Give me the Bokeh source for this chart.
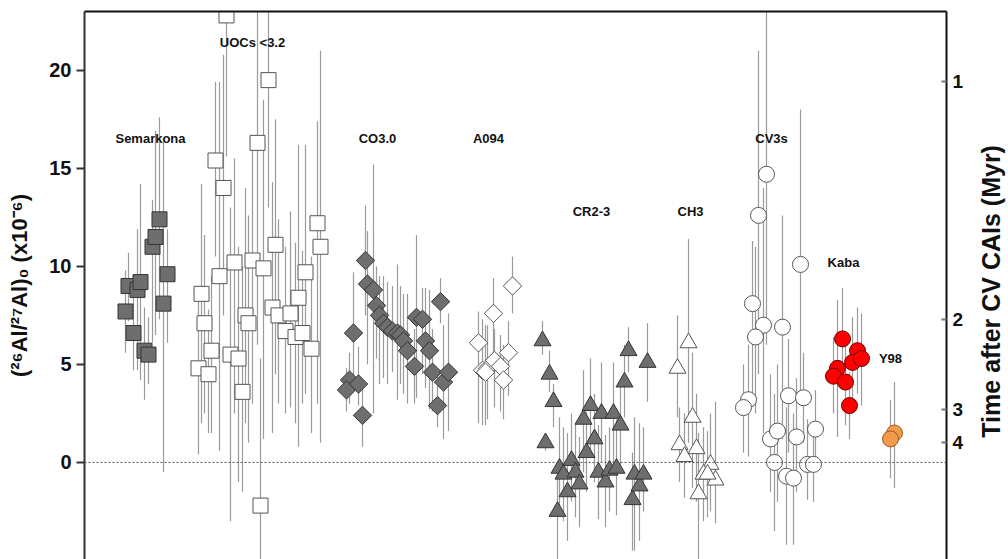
import math
from bokeh.plotting import figure
from bokeh.layouts import row
from bokeh.models import Range1d, LinearAxis, FixedTicker, Span
from bokeh.core.properties import value
from bokeh.embed import file_html
from bokeh.resources import INLINE

# ---------------- data (position along x, (26Al/27Al)0 x1e-6, lower, upper) ----------------
semarkona_pos = [125, 128, 133, 137, 140, 144, 148, 152, 155, 159, 163, 167]
semarkona_val = [7.7, 9.0, 6.6, 8.8, 9.2, 5.7, 5.5, 11.0, 11.5, 12.4, 8.1, 9.6]
semarkona_lo = [5.6, 7.2, 4.7, 4.7, 4.2, 3.2, 4.0, 6.1, 6.5, 7.3, -0.5, 6.1]
semarkona_hi = [9.8, 10.7, 8.6, 11.9, 14.2, 7.9, 7.4, 13.4, 16.9, 17.6, 16.4, 11.9]

uoc_pos = [226, 268, 257, 215, 223, 317, 320, 275, 234, 252, 263, 219, 305, 201, 298, 272,
           245, 248, 278, 290, 285, 295, 302, 204, 211, 230, 238, 311, 198, 208, 242, 260]
uoc_val = [22.8, 19.5, 16.3, 15.4, 14.0, 12.2, 11.0, 11.1, 10.2, 10.3, 9.9, 9.5, 9.7, 8.6, 8.4, 7.9,
           7.5, 7.1, 7.5, 7.6, 6.7, 6.4, 6.6, 7.1, 5.7, 5.5, 5.3, 5.8, 4.8, 4.5, 3.6, -2.2]
uoc_lo = [15.6, 13.0, 6.0, 10.5, 7.5, 3.0, 1.0, 4.5, 2.5, 3.0, 1.2, 0.6, 3.5, 2.0, 0.8, 1.5,
          2.0, 1.0, 3.0, 2.8, 2.5, 2.0, 3.0, 2.5, 1.5, -3.0, -1.0, 1.5, 0.4, 1.5, -1.5, -6.0]
uoc_hi = [26.0, 26.0, 26.0, 19.4, 20.8, 17.4, 21.0, 17.5, 15.5, 16.2, 18.5, 19.4, 16.2, 14.2, 16.2, 14.3,
          14.0, 12.6, 12.4, 12.8, 11.0, 11.2, 10.8, 11.6, 9.5, 13.0, 11.0, 10.5, 9.0, 7.8, 10.0, 5.3]

co_pos = [365, 367, 373, 376, 379, 383, 387, 392, 397, 400, 403, 407, 414, 416, 422, 425,
          429, 432, 440, 443, 448, 437, 353, 349, 346, 358, 362]
co_val = [10.3, 9.1, 8.8, 8.0, 7.5, 7.1, 6.9, 6.7, 6.6, 6.5, 6.2, 5.7, 4.9, 7.4, 7.3, 6.2,
          5.7, 4.6, 8.2, 4.1, 4.6, 2.9, 6.6, 4.2, 3.7, 4.0, 2.4]
co_lo = [7.5, 5.0, 2.5, 5.3, 4.0, 4.3, 4.0, 4.6, 3.2, 4.0, 3.5, 3.0, 3.0, 3.3, 4.5, 3.8,
         2.7, 2.6, 7.1, 1.2, 1.6, 1.8, 3.7, 3.0, 2.6, 2.9, 0.8]
co_hi = [13.1, 11.8, 15.2, 10.0, 9.5, 9.5, 9.2, 9.0, 10.1, 9.0, 8.6, 8.6, 6.8, 11.6, 8.9, 8.9,
         8.8, 6.8, 9.4, 7.0, 7.6, 4.4, 9.7, 5.6, 4.8, 5.9, 4.0]

a094_pos = [512, 493, 478, 508, 482, 487, 494, 500, 503, 485]
a094_val = [9.0, 7.6, 6.1, 5.6, 4.7, 4.8, 5.2, 4.9, 4.2, 4.6]
a094_lo = [7.6, 5.0, 2.0, 3.4, 1.9, 2.2, 2.8, 2.6, 2.2, 1.9]
a094_hi = [10.5, 9.4, 7.7, 7.2, 7.3, 7.0, 6.8, 6.5, 6.0, 7.0]

cr_pos = [542, 549, 553, 545, 557, 559, 563, 567, 571, 575, 579, 583, 586, 590, 594, 598,
          601, 605, 609, 613, 616, 620, 624, 628, 632, 634, 639, 643, 647]
cr_val = [6.2, 4.5, 3.1, 1.0, -2.5, -0.3, -0.6, -1.5, 0.1, -0.5, -1.1, 2.2, 0.5, 2.9, 1.2, -0.5,
          2.5, -1.0, -0.4, 2.5, -0.3, 1.9, 4.1, 5.7, -1.9, -0.6, -1.2, -0.6, 5.1]
cr_lo = [5.5, 3.6, 1.8, 0.6, -5.0, -2.5, -3.0, -4.0, -2.0, -2.8, -3.3, -0.5, -1.5, 0.5, -1.0, -2.9,
         0.0, -3.3, -2.5, 0.0, -2.7, -0.5, 2.3, 4.6, -4.5, -4.5, -4.0, -2.5, 3.1]
cr_hi = [7.2, 5.7, 4.0, 1.4, -0.6, 2.3, 1.8, 1.5, 2.5, 2.0, 1.3, 4.7, 2.6, 5.3, 3.5, 1.9,
         5.1, 1.4, 1.8, 5.1, 2.2, 4.0, 6.0, 6.9, 0.5, 2.3, 2.0, 1.8, 7.1]

ch_pos = [688, 677, 692, 679, 684, 696, 710, 703, 715, 698, 707]
ch_val = [6.1, 4.8, 2.3, 0.9, 0.3, 0.7, -0.1, -0.6, -0.9, -1.6, -0.6]
ch_lo = [1.0, 2.3, -1.3, -1.0, -1.8, -2.0, -2.5, -3.0, -3.1, -5.0, -2.8]
ch_hi = [11.4, 7.5, 5.6, 2.8, 2.5, 3.5, 2.5, 1.8, 3.1, 1.5, 1.6]

cv_pos = [766, 758, 752, 763, 755, 782, 800, 748, 743, 788, 803, 770, 777, 796, 815, 774,
          786, 793, 807, 813]
cv_val = [14.7, 12.6, 8.1, 7.0, 6.4, 6.9, 10.1, 3.2, 2.8, 3.4, 3.3, 1.2, 1.6, 1.3, 1.7, 0.0,
          -0.7, -0.8, -0.1, -0.1]
cv_lo = [6.0, 4.5, 3.5, 1.5, 2.5, 1.2, 3.4, 0.3, 0.5, 0.5, 1.0, -1.5, -2.0, -1.5, -0.3, -3.5,
         -4.2, -4.2, -1.9, -2.0]
cv_hi = [26.0, 21.0, 11.3, 14.0, 11.0, 12.6, 18.0, 6.0, 5.0, 6.3, 5.6, 4.5, 5.0, 4.3, 3.7, 3.5,
         2.8, 2.5, 2.2, 1.5]

kaba_pos = [842, 857, 852, 861, 837, 833, 845, 849]
kaba_val = [6.3, 5.7, 5.1, 5.3, 4.8, 4.4, 4.1, 2.9]
kaba_lo = [3.8, 3.5, 2.8, 2.9, 1.3, 2.5, 1.9, 1.2]
kaba_hi = [8.9, 7.9, 7.4, 7.6, 8.3, 6.4, 6.2, 4.6]

y98_pos = [894, 890]
y98_val = [1.5, 1.2]
y98_lo = [-1.3, -0.8]
y98_hi = [4.1, 3.2]

group_names = ["Semarkona", "UOCs <3.2", "CO3.0", "A094", "CR2-3", "CH3", "CV3s", "Kaba", "Y98"]
group_label_pos = [150, 252, 377, 488, 591, 690, 771, 843, 890]
group_label_val = [16.5, 21.4, 16.5, 16.5, 12.8, 12.8, 16.5, 10.2, 5.3]

left_ticks = [0, 5, 10, 15, 20]
time_ticks = [1, 2, 3, 4]          # Myr after CV CAIs
cai_ratio = 52.0                    # (26Al/27Al)0 of CV CAIs, x1e-6
al26_half_life = 0.705              # Myr
right_title = "Time after CV CAIs (Myr)"

# ---------------- figure ----------------
FONT = "Liberation Sans"
Y_LO, Y_HI = -4.95, 23.0
MAIN_W, SIDE_W, H = 974, 34, 559
p = figure(width=MAIN_W, height=H, x_range=Range1d(84, 946), y_range=Range1d(Y_LO, Y_HI),
           output_backend="svg", toolbar_location=None, x_axis_location=None,
           min_border_left=84, min_border_right=MAIN_W - 946, min_border_top=11, min_border_bottom=0)
p.grid.visible = False
p.outline_line_color = None
p.background_fill_color = "white"
p.border_fill_color = "white"

# left axis
ya = p.yaxis[0]
ya.ticker = FixedTicker(ticks=left_ticks)
ya.axis_label = "(²⁶Al/²⁷Al)₀ (x10⁻⁶)"
ya.axis_label_text_font = FONT
ya.axis_label_text_font_style = "bold"
ya.axis_label_text_font_size = "22px"
ya.axis_label_text_color = "#111111"
ya.axis_label_standoff = 14
ya.major_label_text_font = FONT
ya.major_label_text_font_style = "bold"
ya.major_label_text_font_size = "20px"
ya.major_label_text_color = "#111111"
ya.major_label_standoff = 5
ya.major_tick_out = 8
ya.major_tick_in = 0
ya.minor_tick_out = 0
ya.minor_tick_in = 0
ya.axis_line_width = 2
ya.axis_line_color = "#333333"
ya.major_tick_line_color = "#333333"
ya.major_tick_line_width = 2

# right axis (time after CV CAIs)
decay = math.log(2) / al26_half_life
time_pos = [round(cai_ratio * math.exp(-decay * t), 4) for t in time_ticks]
ra = LinearAxis(ticker=FixedTicker(ticks=time_pos),
                major_label_overrides={tp: str(t) for tp, t in zip(time_pos, time_ticks)})
ra.major_label_text_font = FONT
ra.major_label_text_font_style = "bold"
ra.major_label_text_font_size = "19px"
ra.major_label_text_color = "#111111"
ra.major_label_standoff = 6
ra.major_tick_in = 5
ra.major_tick_out = 0
ra.major_tick_line_color = "#777777"
ra.major_tick_line_width = 2
ra.minor_tick_in = 0
ra.minor_tick_out = 0
ra.axis_line_width = 2
ra.axis_line_color = "#111111"
p.add_layout(ra, "right")

# top border line
ta = LinearAxis(ticker=FixedTicker(ticks=[]), major_tick_in=0, major_tick_out=0,
                minor_tick_in=0, minor_tick_out=0, major_label_text_font_size="0px",
                axis_line_width=2, axis_line_color="#111111")
p.add_layout(ta, "above")

# zero line
p.add_layout(Span(location=0, dimension="width", line_color="#555555",
                  line_dash="2 2", line_width=1))

groups = [
    (semarkona_pos, semarkona_val, semarkona_lo, semarkona_hi, "square", 15, 0, "#6e6e6e", "#333333"),
    (uoc_pos, uoc_val, uoc_lo, uoc_hi, "square", 15, 0, "white", "#555555"),
    (co_pos, co_val, co_lo, co_hi, "square", 13, math.pi / 4, "#6e6e6e", "#333333"),
    (a094_pos, a094_val, a094_lo, a094_hi, "square", 13, math.pi / 4, "white", "#555555"),
    (cr_pos, cr_val, cr_lo, cr_hi, "triangle", 17, 0, "#6e6e6e", "#333333"),
    (ch_pos, ch_val, ch_lo, ch_hi, "triangle", 17, 0, "white", "#555555"),
    (cv_pos, cv_val, cv_lo, cv_hi, "circle", 16, 0, "white", "#555555"),
    (kaba_pos, kaba_val, kaba_lo, kaba_hi, "circle", 16, 0, "#ff0000", "#6a0000"),
    (y98_pos, y98_val, y98_lo, y98_hi, "circle", 16, 0, "#f39a4c", "#9a5a22"),
]

# error bars first
for pos, val, lo, hi, *_ in groups:
    p.segment(x0=pos, y0=lo, x1=pos, y1=hi, line_color="#9b9b9b", line_width=1.2)

# markers
for pos, val, lo, hi, marker, size, ang, fill, line in groups:
    p.scatter(x=pos, y=val, marker=marker, size=size, angle=ang,
              fill_color=fill, line_color=line, line_width=1)

# group labels
p.text(x=group_label_pos, y=group_label_val, text=group_names,
       text_font=value(FONT), text_font_style="bold", text_font_size="13px",
       text_align="center", text_baseline="middle", text_color="#111111")

# narrow side panel carrying the right-hand axis title (reads bottom to top)
side = figure(width=SIDE_W, height=H, x_range=Range1d(0, SIDE_W), y_range=Range1d(0, H),
              output_backend="svg", toolbar_location=None,
              x_axis_location=None, y_axis_location=None,
              min_border_left=0, min_border_right=0, min_border_top=0, min_border_bottom=0)
side.grid.visible = False
side.outline_line_color = None
side.background_fill_color = "white"
side.border_fill_color = "white"
side.text(x=[SIDE_W / 2 - 1], y=[H / 2 - 6], text=[right_title], angle=math.pi / 2,
          text_font=value(FONT), text_font_style="bold", text_font_size="25px",
          text_align="center", text_baseline="middle", text_color="#111111")

layout = row(p, side, spacing=0)
open("out.html", "w").write(file_html(layout, INLINE))
